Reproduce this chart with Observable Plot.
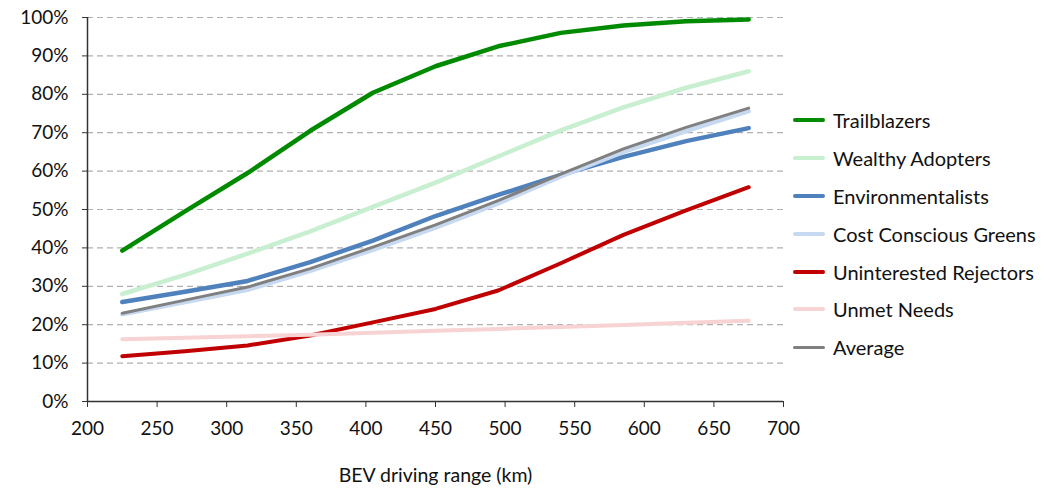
<!DOCTYPE html>
<html>
<head>
<meta charset="utf-8">
<script src="https://cdn.jsdelivr.net/npm/d3@7"></script>
<script src="https://cdn.jsdelivr.net/npm/@observablehq/plot@0.6"></script>
<style>
  html, body { margin: 0; padding: 0; background: #fff; }
  #wrap { position: relative; width: 1056px; height: 492px; font-family: Lato, "Open Sans", sans-serif; }
  #legend { position: absolute; left: 793px; top: 101px; }
  .item { display: flex; align-items: center; height: 37.9px; font-size: 20px; color: #111; }
  .swatch { width: 32px; height: 0; margin-right: 8px; border-radius: 2px; }
</style>
</head>
<body>
<div id="wrap"></div>
<script>
const ranges = [225, 270, 315, 360, 405, 450, 495, 540, 585, 630, 675];
const seriesNames = ["Trailblazers", "Wealthy Adopters", "Environmentalists", "Cost Conscious Greens", "Uninterested Rejectors", "Unmet Needs", "Average"];
const trailblazers = [39.3, 49.5, 59.5, 70.5, 80.4, 87.3, 92.5, 96.0, 97.9, 99.0, 99.5];
const wealthyAdopters = [28.0, 33.0, 38.5, 44.3, 50.7, 57.0, 63.8, 70.6, 76.6, 81.7, 86.0];
const environmentalists = [25.9, 28.6, 31.4, 36.3, 41.9, 48.3, 53.8, 59.0, 63.7, 67.8, 71.2];
const costConsciousGreens = [22.7, 25.9, 29.1, 34.0, 39.5, 45.3, 51.6, 58.6, 65.0, 70.4, 75.6];
const uninterestedRejectors = [11.8, 13.1, 14.6, 17.2, 20.6, 24.1, 28.9, 36.0, 43.4, 49.8, 55.8];
const unmetNeeds = [16.2, 16.6, 17.0, 17.4, 17.9, 18.4, 18.9, 19.4, 19.9, 20.5, 21.0];
const average = [23.0, 26.4, 29.8, 34.6, 40.2, 46.0, 52.3, 59.2, 65.8, 71.4, 76.4];
const yTicks = [0, 10, 20, 30, 40, 50, 60, 70, 80, 90, 100];
const xTicks = [200, 250, 300, 350, 400, 450, 500, 550, 600, 650, 700];
const colors = ["#008a00", "#c9efd1", "#4f81bd", "#c6d9f1", "#c00000", "#f8d3d3", "#808080"];
const widths = [4.5, 4.5, 4.5, 4.5, 4, 4, 3];

const valuesBySeries = [trailblazers, wealthyAdopters, environmentalists, costConsciousGreens, uninterestedRejectors, unmetNeeds, average];
const rows = [];
seriesNames.forEach((name, i) => {
  ranges.forEach((r, j) => rows.push({series: name, range: r, share: valuesBySeries[i][j] / 100}));
});

const lineMarks = seriesNames.map((name, i) =>
  Plot.line(rows.filter(d => d.series === name), {
    x: "range", y: "share", stroke: colors[i], strokeWidth: widths[i],
    strokeLinejoin: "round", strokeLinecap: "round"
  })
);

const chart = Plot.plot({
  width: 1056,
  height: 492,
  marginLeft: 87,
  marginRight: 273,
  marginTop: 17,
  marginBottom: 91,
  style: {fontFamily: "Lato, 'Open Sans', sans-serif", fontSize: "19px", color: "#111", background: "#fff"},
  x: {domain: [200, 700]},
  y: {domain: [0, 1]},
  marks: [
    Plot.gridY(yTicks.filter(t => t > 0).map(t => t / 100), {stroke: "#b0b0b0", strokeOpacity: 1, strokeWidth: 1.2, strokeDasharray: "6,4", x1: 200, x2: 700}),
    Plot.ruleY([0], {stroke: "#333", strokeWidth: 1.5}),
    Plot.ruleX([200], {stroke: "#333", strokeWidth: 1.5}),
    Plot.axisY(yTicks.map(t => t / 100), {tickFormat: d => Math.round(d * 100) + "%", tickSize: 5, tickPadding: 14, stroke: "#333", fontSize: 19, label: null}),
    Plot.axisX(xTicks, {tickSize: 6, tickPadding: 14, stroke: "#333", fontSize: 19, label: null}),
    Plot.text(["BEV driving range (km)"], {frameAnchor: "bottom", dy: 80, fontSize: 19.5, fill: "#111"}),
    ...lineMarks
  ]
});

const wrap = document.getElementById("wrap");
wrap.appendChild(chart);

const legend = document.createElement("div");
legend.id = "legend";
seriesNames.forEach((name, i) => {
  const item = document.createElement("div");
  item.className = "item";
  const sw = document.createElement("div");
  sw.className = "swatch";
  sw.style.borderTop = widths[i] + "px solid " + colors[i];
  const label = document.createElement("span");
  label.textContent = name;
  item.appendChild(sw);
  item.appendChild(label);
  legend.appendChild(item);
});
wrap.appendChild(legend);
</script>
</body>
</html>
